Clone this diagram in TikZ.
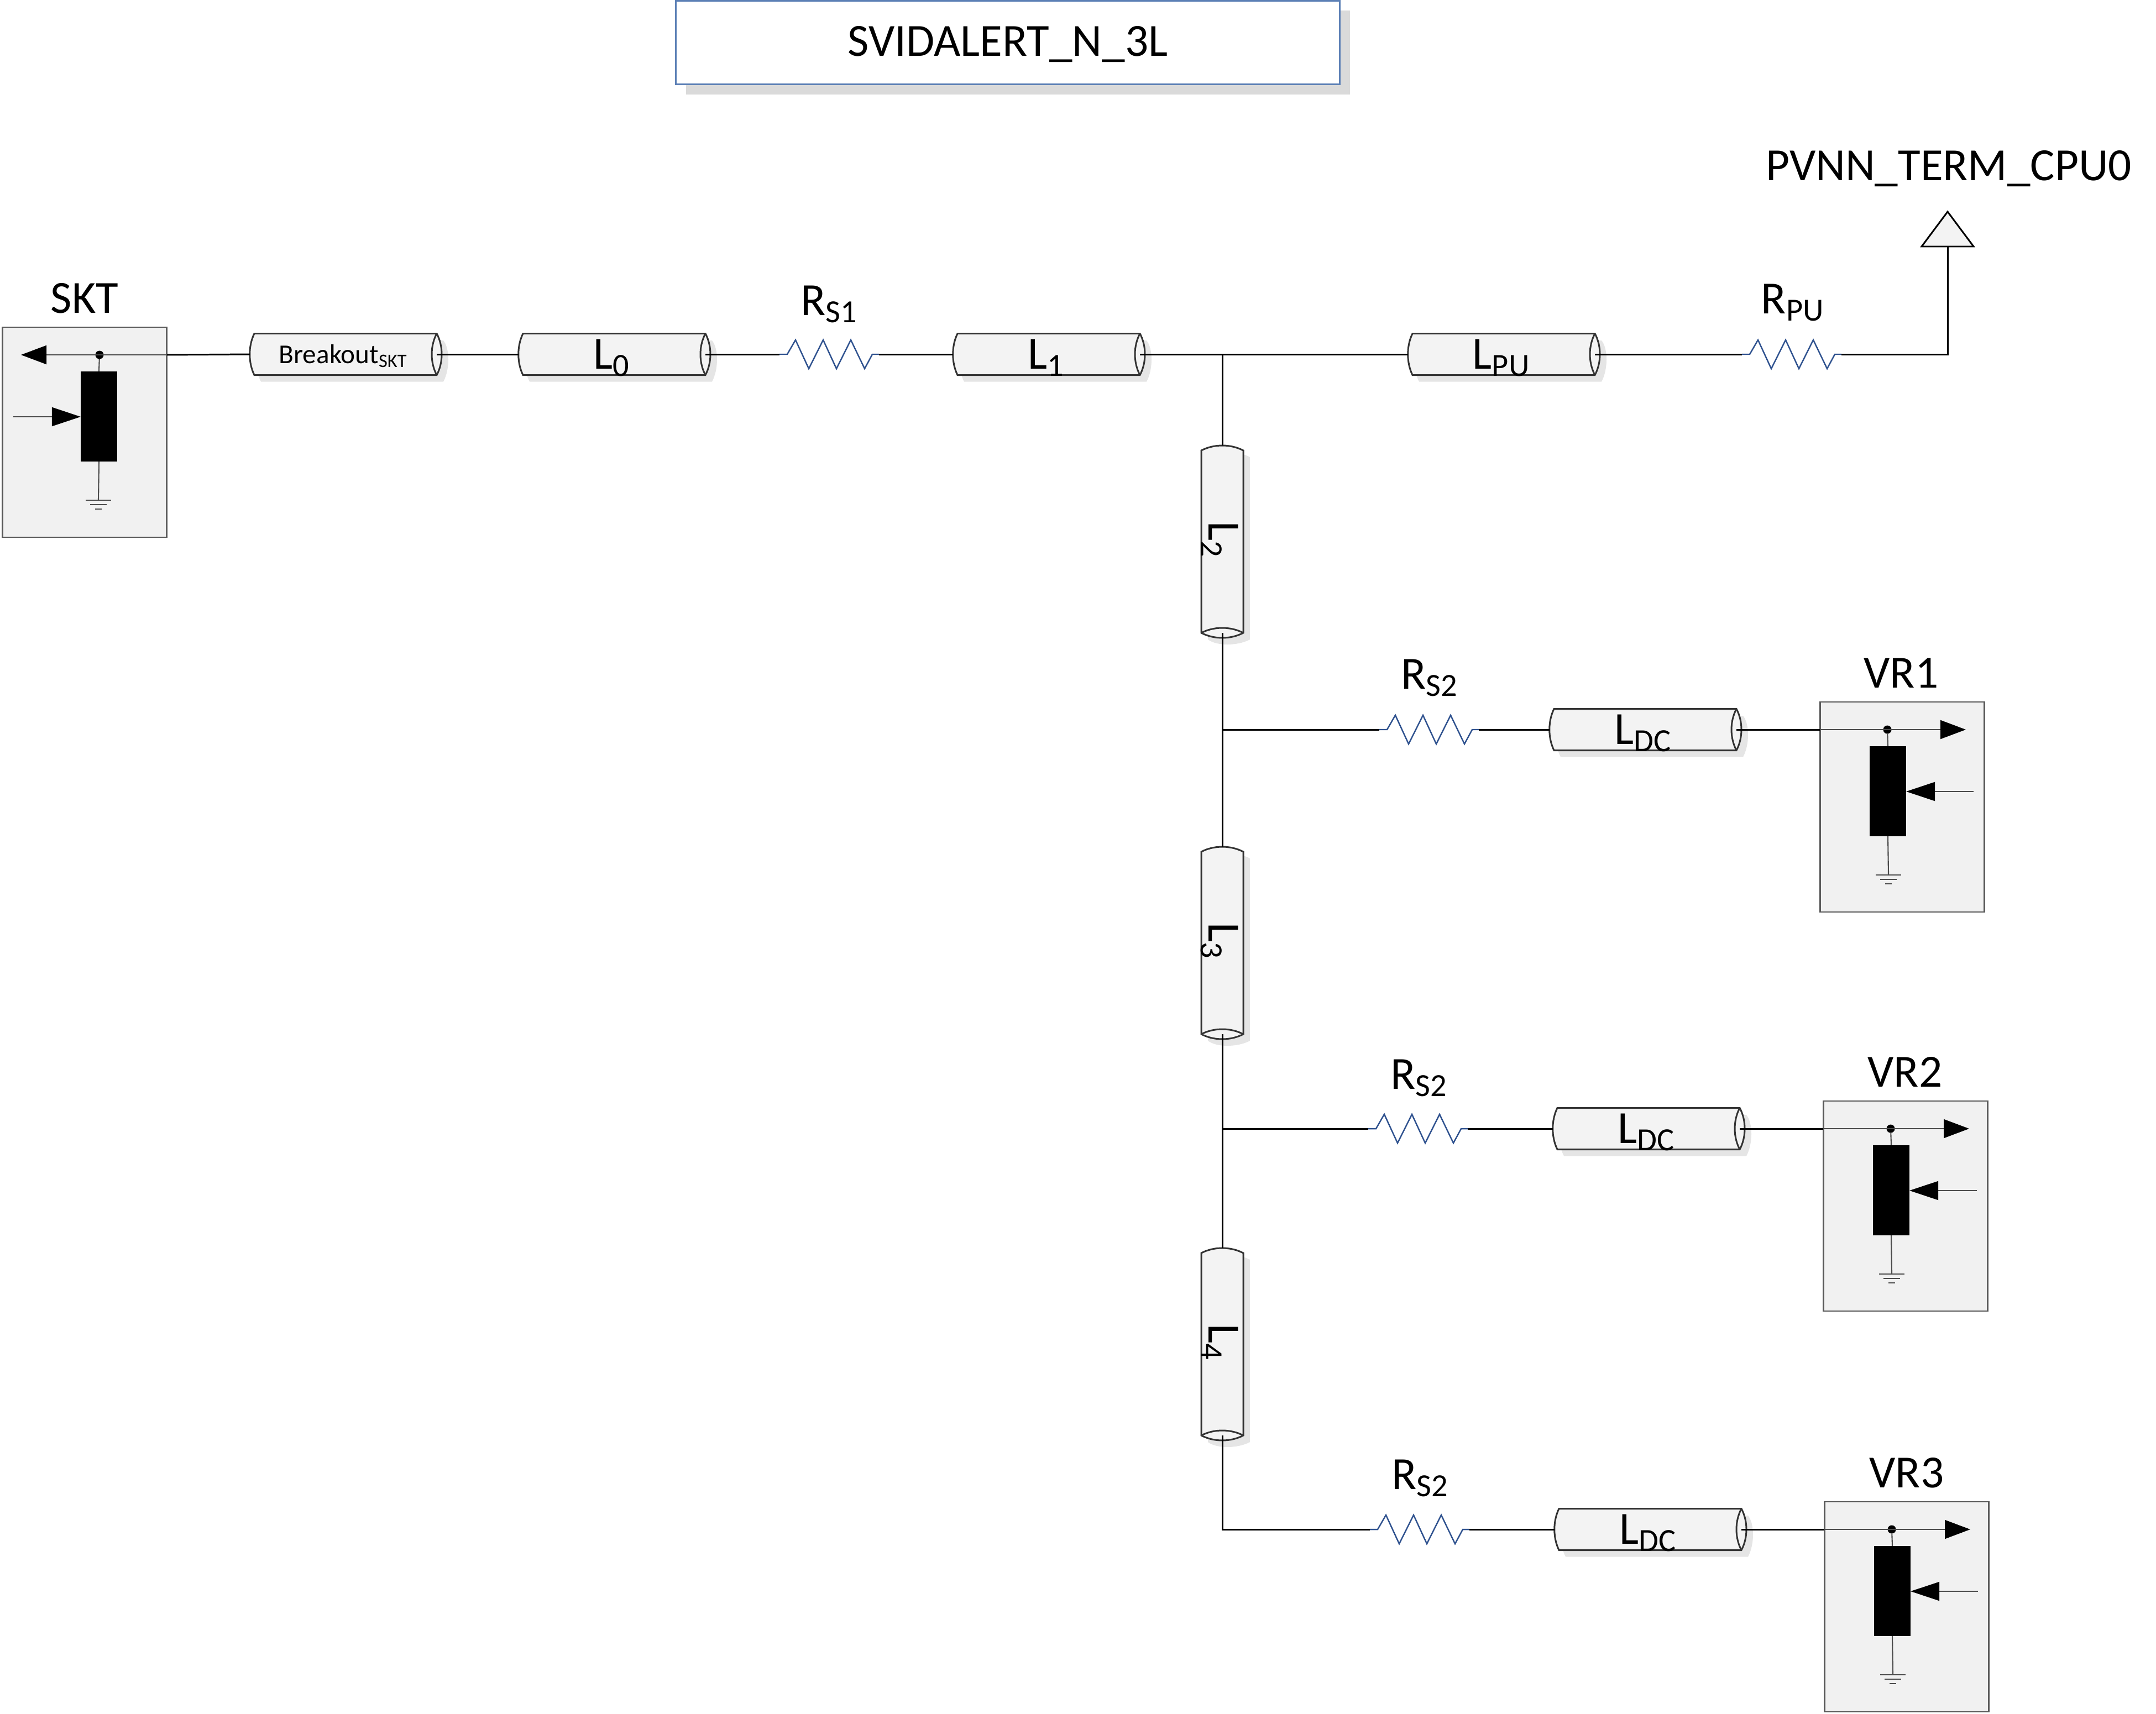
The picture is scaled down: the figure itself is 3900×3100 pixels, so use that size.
\documentclass[tikz,border=0pt]{standalone}
\usepackage{fontspec}
\setmainfont{Carlito}
\usetikzlibrary{arrows.meta, positioning, calc}
\definecolor{cablefill}{RGB}{243, 243, 243}
\definecolor{cableedge}{RGB}{51, 51, 51}
\definecolor{cableshade}{RGB}{229, 229, 229}
\definecolor{blockfill}{RGB}{241, 241, 241}
\definecolor{resblue}{RGB}{47, 82, 143}
\definecolor{titleblue}{RGB}{91, 127, 181}
\definecolor{titleshade}{RGB}{218, 218, 218}

\newcommand{\hcable}[6]{%
  \begin{scope}[shift={(#2,#3)}]
    \fill[cableshade] (20,-25) .. controls (8,-10) and (8,27) .. (20,49.5) -- (350,49.5) .. controls (362,27) and (362,-10) .. (350,-25) -- cycle;
    \draw[cablebody] (8,-37.5) .. controls (-3,-15) and (-3,15) .. (8,37.5) -- (338,37.5) .. controls (350,15) and (350,-15) .. (338,-37.5) -- cycle;
    \draw[cablebody] (338,-37.5) .. controls (326,-15) and (326,15) .. (338,37.5);
    \node[cablenode, minimum width=3.38cm, minimum height=0.75cm, anchor=west] (#1) at (0,0) {};
    \node[#4, anchor=base] (#1txt) at (169,#5) {#6};
  \end{scope}}

\newcommand{\vcable}[4]{%
  \begin{scope}[shift={(#2,#3)}]
    \fill[cableshade] (-26,21) .. controls (-10,9) and (27,9) .. (50,21) -- (50,351) .. controls (27,363) and (-10,363) .. (-26,351) -- cycle;
    \draw[cablebody] (-38,9) .. controls (-15,-3) and (15,-3) .. (38,9) -- (38,339) .. controls (15,351) and (-15,351) .. (-38,339) -- cycle;
    \draw[cablebody] (-38,339) .. controls (-15,327) and (15,327) .. (38,339);
    \node[cablenode, minimum width=0.76cm, minimum height=3.39cm, anchor=north] (#1) at (0,0) {};
    \node[biglabel, rotate=-90, anchor=base] (#1txt) at (-25,171) {#4};
  \end{scope}}

\newcommand{\resistor}[3]{%
  \node[cablenode, minimum width=1.8cm, minimum height=0.52cm] (#1) at (#2,#3) {};
  \draw[resline, shift={(#2,#3)}] (-90,0) -- (-76,0) -- (-61,-26) -- (-37,26) -- (-11,-26) -- (13,26) -- (39,-26) -- (64,26) -- (78,0) -- (90,0);}

\newcommand{\loadblock}[4]{%
  \begin{scope}[shift={(#2,#3)}, xscale=#4]
    \node[blockbox] (#1box) at (149,190) {};
    \coordinate (#1pin) at (0,50);
    \coordinate (#1out) at (264,50);
    \coordinate (#1in) at (278,162);
    \coordinate (#1hit) at (156,162);
    \coordinate (#1gnd) at (124,313);
    \node[blockbar] (#1bar) at (123,161.5) {};
    \node[blockdot] (#1dot) at (122,50) {};
    \draw[pinline, -{Triangle[length=4.6mm,width=3.4mm,black]}] (#1pin) -- (#1out);
    \draw[pinline, -{Triangle[length=5.2mm,width=3.4mm,black]}] (#1in) -- (#1hit);
    \draw[pinline] (#1dot) -- (#1bar.north);
    \draw[pinline] (#1bar.south) -- (#1gnd);
    \draw[pinline] ($(#1gnd)+(-23,0)$) -- ($(#1gnd)+(23,0)$);
    \draw[pinline] ($(#1gnd)+(-15,8)$) -- ($(#1gnd)+(15,8)$);
    \draw[pinline] ($(#1gnd)+(-6,16)$) -- ($(#1gnd)+(6,16)$);
  \end{scope}}

\begin{document}
\begin{tikzpicture}[x=0.01cm, y=-0.01cm]
    \tikzstyle{biglabel} = [font=\fontsize{23.7}{28}\selectfont, inner sep=0pt]
    \tikzstyle{smalllabel} = [font=\fontsize{14}{17}\selectfont, inner sep=0pt]
    \tikzstyle{wire} = [draw, black, line width=0.85pt]
    \tikzstyle{cablebody} = [draw=cableedge, fill=cablefill, line width=0.85pt]
    \tikzstyle{cablenode} = [inner sep=0pt, outer sep=0pt]
    \tikzstyle{resline} = [draw=resblue, line width=0.7pt]
    \tikzstyle{blockbox} = [draw=black!65, fill=blockfill, line width=0.7pt, minimum width=2.97cm, minimum height=3.8cm, inner sep=0pt, outer sep=0pt]
    \tikzstyle{blockbar} = [fill=black, minimum width=0.66cm, minimum height=1.63cm, inner sep=0pt, outer sep=0pt]
    \tikzstyle{blockdot} = [circle, fill=black, minimum size=0.15cm, inner sep=0pt, outer sep=0pt]
    \tikzstyle{pinline} = [draw, black!70, line width=0.6pt]

    \useasboundingbox (0,0) rectangle (3900,3100);

    \fill[titleshade] (1241,19) rectangle (2442,171);
    \node[draw=titleblue, fill=white, line width=0.85pt, minimum width=12cm, minimum height=1.5cm, inner sep=0pt] (title) at (1823,77) {};
    \node[biglabel, anchor=base] (titletxt) at (1823,102) {SVIDALERT\_N\_3L};

    \loadblock{skt}{302}{592}{-1}
    \loadblock{vra}{3292}{1270}{1}
    \loadblock{vrb}{3298}{1992}{1}
    \loadblock{vrc}{3300}{2717}{1}

    \node[biglabel, anchor=base] (skttxt) at (153,566) {SKT};
    \node[biglabel, anchor=base] (vratxt) at (3439,1244) {VR1};
    \node[biglabel, anchor=base] (vrbtxt) at (3446,1966) {VR2};
    \node[biglabel, anchor=base] (vrctxt) at (3449,2691) {VR3};

    \hcable{breakout}{452}{641}{smalllabel}{16}{Breakout\textsubscript{SKT}}
    \hcable{lzero}{938}{641}{biglabel}{26}{L\textsubscript{0}}
    \hcable{lone}{1724}{641}{biglabel}{26}{L\textsubscript{1}}
    \hcable{lpu}{2547}{641}{biglabel}{26}{L\textsubscript{PU}}
    \hcable{ldca}{2803}{1320}{biglabel}{26}{L\textsubscript{DC}}
    \hcable{ldcb}{2809}{2042}{biglabel}{26}{L\textsubscript{DC}}
    \hcable{ldcc}{2812}{2767}{biglabel}{26}{L\textsubscript{DC}}

    \vcable{ltwo}{2211}{806}{L\textsubscript{2}}
    \vcable{lthree}{2211}{1532}{L\textsubscript{3}}
    \vcable{lfour}{2211}{2258}{L\textsubscript{4}}

    \resistor{rsone}{1500}{641}
    \resistor{rpu}{3241}{641}
    \resistor{rsa}{2585}{1320}
    \resistor{rsb}{2565}{2042}
    \resistor{rsc}{2568}{2767}

    \node[biglabel, anchor=base] (rsonetxt) at (1500,570) {R\textsubscript{S1}};
    \node[biglabel, anchor=base] (rputxt) at (3243,567) {R\textsubscript{PU}};
    \node[biglabel, anchor=base] (rsatxt) at (2586,1246) {R\textsubscript{S2}};
    \node[biglabel, anchor=base] (rsbtxt) at (2567,1970) {R\textsubscript{S2}};
    \node[biglabel, anchor=base] (rsctxt) at (2569,2694) {R\textsubscript{S2}};

    \coordinate (term) at (3523,446);
    \draw[draw=black, fill=cablefill, line width=0.85pt] (3476,446) -- (3523,383) -- (3570,446) -- cycle;
    \node[biglabel, anchor=base] (termtxt) at (3525,327) {PVNN\_TERM\_CPU0};

    \coordinate (jone) at (2211,641);
    \coordinate (jtwo) at (2211,1320);
    \coordinate (jthree) at (2211,2042);
    \coordinate (jfour) at (2211,2767);

    \draw[wire] (sktpin) -- (breakout.west);
    \draw[wire] (breakout.east) -- (lzero.west);
    \draw[wire] (lzero.east) -- (rsone.west);
    \draw[wire] (rsone.east) -- (lone.west);
    \draw[wire] (lone.east) -- (lpu.west);
    \draw[wire] (lpu.east) -- (rpu.west);
    \draw[wire] (rpu.east) -| (term);
    \draw[wire] (jone) -- (ltwo.north);
    \draw[wire] (ltwo.south) -- (lthree.north);
    \draw[wire] (lthree.south) -- (lfour.north);
    \draw[wire] (lfour.south) -- (jfour) -- (rsc.west);
    \draw[wire] (jtwo) -- (rsa.west);
    \draw[wire] (jthree) -- (rsb.west);
    \draw[wire] (rsa.east) -- (ldca.west);
    \draw[wire] (rsb.east) -- (ldcb.west);
    \draw[wire] (rsc.east) -- (ldcc.west);
    \draw[wire] (ldca.east) -- (vrapin);
    \draw[wire] (ldcb.east) -- (vrbpin);
    \draw[wire] (ldcc.east) -- (vrcpin);
\end{tikzpicture}
\end{document}
